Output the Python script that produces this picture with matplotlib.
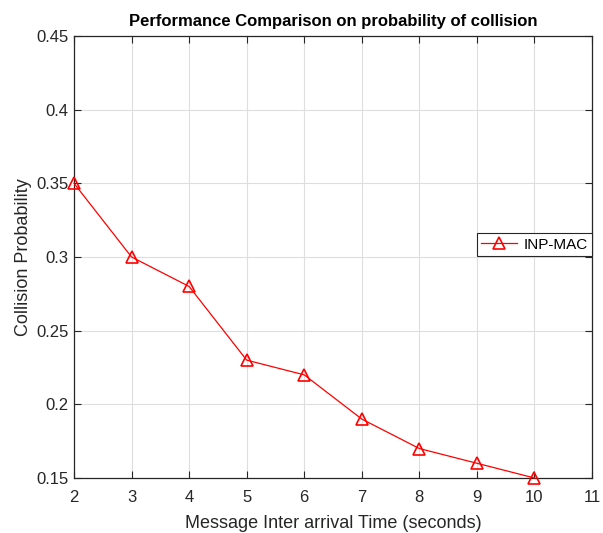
import matplotlib.pyplot as plt

plt.rcParams['font.family'] = ['Liberation Sans', 'DejaVu Sans']

inter_arrival = [2, 3, 4, 5, 6, 7, 8, 9, 10]
collision_prob = [0.35, 0.30, 0.28, 0.23, 0.22, 0.19, 0.17, 0.16, 0.15]
x_ticks = [2, 3, 4, 5, 6, 7, 8, 9, 10, 11]
y_ticks = [0.15, 0.2, 0.25, 0.3, 0.35, 0.4, 0.45]
y_labels = ['0.15', '0.2', '0.25', '0.3', '0.35', '0.4', '0.45']

fig = plt.figure(figsize=(6.03, 5.33), dpi=100)
ax = fig.add_axes([0.1227, 0.1032, 0.8591, 0.8293])

ax.plot(inter_arrival, collision_prob, color='red', lw=0.9, marker='^',
        markersize=8, markerfacecolor='none', markeredgecolor='red',
        markeredgewidth=1.2, label='INP-MAC', clip_on=False, zorder=3)

ax.set_xlim(2, 11)
ax.set_ylim(0.15, 0.45)
ax.set_xticks(x_ticks)
ax.set_yticks(y_ticks)
ax.set_yticklabels(y_labels)
ax.grid(True, color='#dedede', lw=0.8)
ax.set_axisbelow(True)

text_col = '#262626'
ax.tick_params(direction='in', top=True, right=True, length=5, width=0.8,
               labelsize=12, colors=text_col)
ax.tick_params(axis='x', pad=9)
ax.tick_params(axis='y', pad=4)
for s in ax.spines.values():
    s.set_color(text_col)
    s.set_linewidth(0.9)

ax.set_xlabel('Message Inter arrival Time (seconds)', fontsize=13, color=text_col, labelpad=6.5)
ax.set_ylabel('Collision Probability', fontsize=13, color=text_col, labelpad=3)
ax.set_title('Performance Comparison on probability of collision', fontsize=12,
             fontweight='bold', color='black', pad=7)

leg = ax.legend(loc='center right', bbox_to_anchor=(1.0, 0.528), fontsize=11,
                fancybox=False, framealpha=1, edgecolor=text_col,
                borderaxespad=0, handlelength=2.3, handletextpad=0.45,
                borderpad=0.28)
leg.get_frame().set_linewidth(0.8)

fig.savefig('out.png', dpi=100)
